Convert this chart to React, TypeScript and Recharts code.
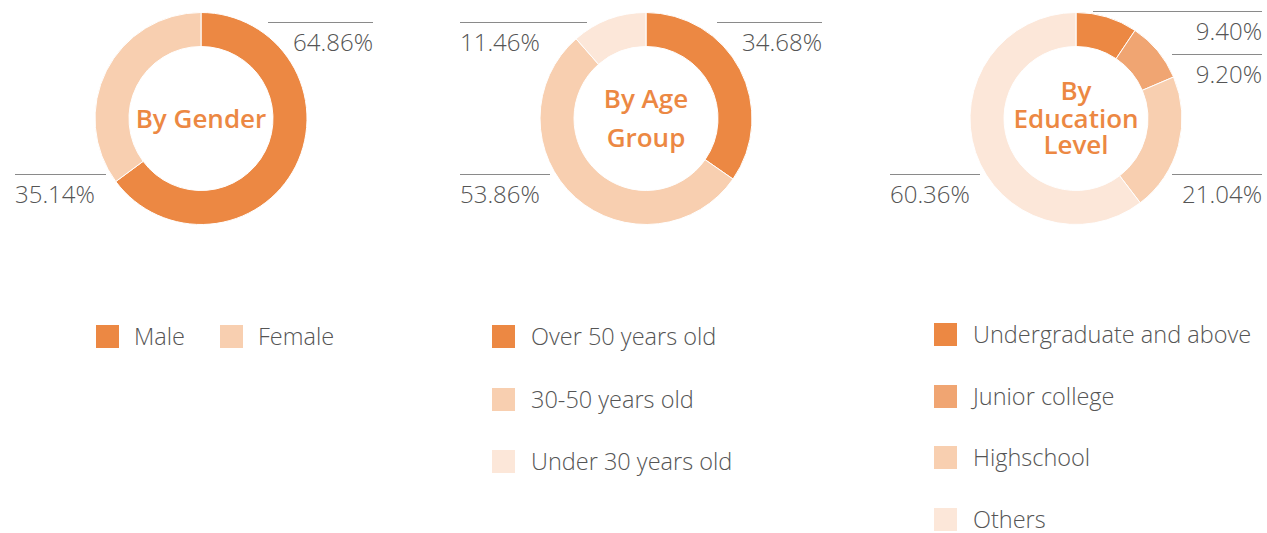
import React from 'react';
import { PieChart, Pie, Cell } from 'recharts';

const genderLabels = ['Male', 'Female'];
const genderValues = [64.86, 35.14];
const ageLabels = ['Over 50 years old', '30-50 years old', 'Under 30 years old'];
const ageValues = [34.68, 53.86, 11.46];
const eduLabels = ['Undergraduate and above', 'Junior college', 'Highschool', 'Others'];
const eduValues = [9.4, 9.2, 21.04, 60.36];

const genderColors = ['#EC8843', '#F8CFB0'];
const ageColors = ['#EC8843', '#F8CFB0', '#FCE7D9'];
const eduColors = ['#EC8843', '#F0A572', '#F8CFB0', '#FCE7D9'];

const TEXT = '#555555';
const ORANGE = '#EC8843';
const FONT = '"Source Sans Pro", "Open Sans", "Noto Sans", sans-serif';

type LabelPos = { dy: number; x1: number; x2: number; anchor: 'start' | 'end' };

const genderLayout: LabelPos[] = [
  { dy: -96.5, x1: 67, x2: 172, anchor: 'end' },
  { dy: 55.5, x1: -186, x2: -95, anchor: 'start' },
];
const ageLayout: LabelPos[] = [
  { dy: -96.5, x1: 71, x2: 176, anchor: 'end' },
  { dy: 55.5, x1: -186, x2: -96, anchor: 'start' },
  { dy: -96.5, x1: -186, x2: -59, anchor: 'start' },
];
const eduLayout: LabelPos[] = [
  { dy: -107.5, x1: 17, x2: 186, anchor: 'end' },
  { dy: -64.5, x1: 96, x2: 186, anchor: 'end' },
  { dy: 55.5, x1: 96, x2: 186, anchor: 'end' },
  { dy: 55.5, x1: -186, x2: -96, anchor: 'start' },
];

const genderTitle = ['By Gender'];
const ageTitle = ['By Age', 'Group'];
const eduTitle = ['By', 'Education', 'Level'];
const genderTitleOffsets = [9.5];
const ageTitleOffsets = [-10.5, 28.5];
const eduTitleOffsets = [-18.5, 9.5, 35.5];

const makeLabel =
  (layout: LabelPos[], title: string[], titleOffsets: number[]) =>
  (props: any) => {
    const { cx, cy, index, value } = props;
    const p = layout[index];
    const y = Math.round(cy + p.dy) + 0.5;
    const x1 = cx + p.x1;
    const x2 = cx + p.x2;
    return (
      <g>
        <line x1={x1} x2={x2} y1={y} y2={y} stroke="#8a8a8a" strokeWidth={1} />
        <text
          x={p.anchor === 'end' ? x2 : x1}
          y={y + 28.5}
          textAnchor={p.anchor}
          fill={TEXT}
          fontSize={24}
          fontWeight={300}
          fontFamily={FONT}
        >
          {Number(value).toFixed(2)}%
        </text>
        {index === 0 &&
          title.map((t, i) => (
            <text
              key={i}
              x={cx}
              y={cy + titleOffsets[i]}
              textAnchor="middle"
              fill={ORANGE}
              fontSize={26}
              fontWeight={600}
              fontFamily={FONT}
            >
              {t}
            </text>
          ))}
      </g>
    );
  };

const toData = (labels: string[], values: number[]) =>
  labels.map((name, i) => ({ name, value: values[i] }));

const genderData = toData(genderLabels, genderValues);
const ageData = toData(ageLabels, ageValues);
const eduData = toData(eduLabels, eduValues);

const Swatch = ({ color }: { color: string }) => (
  <div style={{ width: 23, height: 23, background: color, flex: '0 0 auto' }} />
);

const legendText: React.CSSProperties = {
  color: TEXT,
  fontSize: 23.5,
  fontWeight: 300,
  fontFamily: FONT,
  lineHeight: '23px',
  whiteSpace: 'nowrap',
};

export default function App() {
  return (
    <div
      style={{
        position: 'absolute',
        left: 0,
        top: 0,
        width: 1267,
        height: 533,
        background: '#fff',
        overflow: 'hidden',
      }}
    >
      <PieChart width={1267} height={260} margin={{ top: 0, right: 0, bottom: 0, left: 0 }}>
        <Pie
          data={genderData}
          dataKey="value"
          nameKey="name"
          cx={201}
          cy={118.5}
          innerRadius={72}
          outerRadius={106}
          startAngle={90}
          endAngle={-270}
          stroke="#fff"
          strokeWidth={1}
          isAnimationActive={false}
          labelLine={false}
          label={makeLabel(genderLayout, genderTitle, genderTitleOffsets)}
        >
          {genderData.map((d, i) => (
            <Cell key={d.name} fill={genderColors[i]} />
          ))}
        </Pie>
        <Pie
          data={ageData}
          dataKey="value"
          nameKey="name"
          cx={646}
          cy={118.5}
          innerRadius={72}
          outerRadius={106}
          startAngle={90}
          endAngle={-270}
          stroke="#fff"
          strokeWidth={1}
          isAnimationActive={false}
          labelLine={false}
          label={makeLabel(ageLayout, ageTitle, ageTitleOffsets)}
        >
          {ageData.map((d, i) => (
            <Cell key={d.name} fill={ageColors[i]} />
          ))}
        </Pie>
        <Pie
          data={eduData}
          dataKey="value"
          nameKey="name"
          cx={1076}
          cy={118.5}
          innerRadius={72}
          outerRadius={106}
          startAngle={90}
          endAngle={-270}
          stroke="#fff"
          strokeWidth={1}
          isAnimationActive={false}
          labelLine={false}
          label={makeLabel(eduLayout, eduTitle, eduTitleOffsets)}
        >
          {eduData.map((d, i) => (
            <Cell key={d.name} fill={eduColors[i]} />
          ))}
        </Pie>
      </PieChart>

      {/* Gender legend */}
      <div style={{ position: 'absolute', left: 96, top: 325, display: 'flex', alignItems: 'center' }}>
        {genderLabels.map((l, i) => (
          <div key={l} style={{ display: 'flex', alignItems: 'center', marginRight: 35 }}>
            <Swatch color={genderColors[i]} />
            <span style={{ ...legendText, marginLeft: 15 }}>{l}</span>
          </div>
        ))}
      </div>

      {/* Age legend */}
      <div style={{ position: 'absolute', left: 492, top: 325 }}>
        {ageLabels.map((l, i) => (
          <div key={l} style={{ display: 'flex', alignItems: 'center', height: 23, marginBottom: 39.5 }}>
            <Swatch color={ageColors[i]} />
            <span style={{ ...legendText, marginLeft: 16 }}>{l}</span>
          </div>
        ))}
      </div>

      {/* Education legend */}
      <div style={{ position: 'absolute', left: 934, top: 323 }}>
        {eduLabels.map((l, i) => (
          <div key={l} style={{ display: 'flex', alignItems: 'center', height: 23, marginBottom: 38.7 }}>
            <Swatch color={eduColors[i]} />
            <span style={{ ...legendText, marginLeft: 16 }}>{l}</span>
          </div>
        ))}
      </div>
    </div>
  );
}
